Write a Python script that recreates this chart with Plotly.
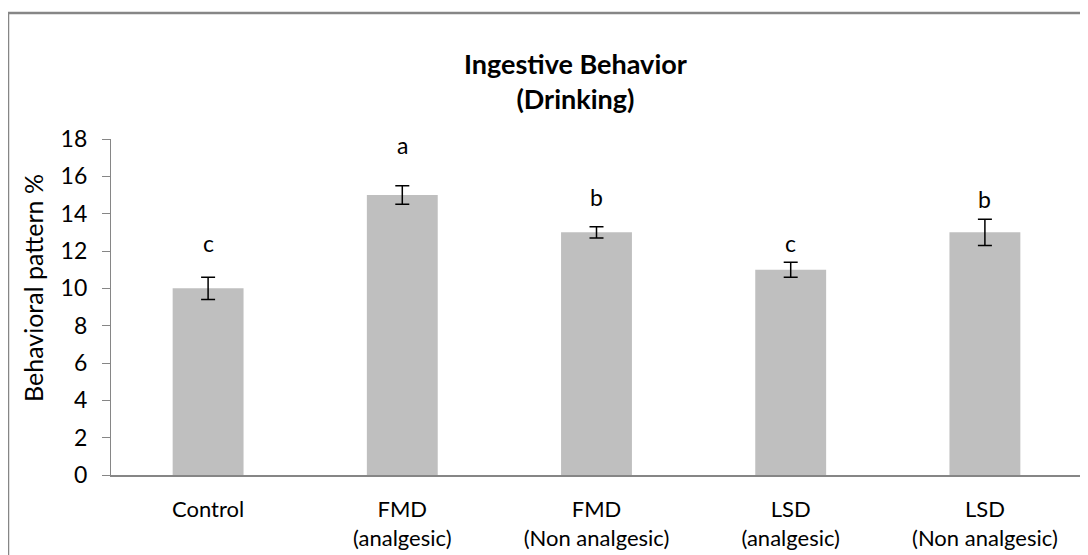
import plotly.graph_objects as go

categories = ["Control", "FMD<br>(analgesic)", "FMD<br>(Non analgesic)", "LSD<br>(analgesic)", "LSD<br>(Non analgesic)"]
values = [10, 15, 13, 11, 13]
errors = [0.6, 0.5, 0.3, 0.4, 0.7]
letters = ["c", "a", "b", "c", "b"]
letter_y = [12.45, 17.7, 14.9, 12.45, 14.8]
y_ticks = [0, 2, 4, 6, 8, 10, 12, 14, 16, 18]

FONT = "Lato"
AXIS_COLOR = "#868686"
TEXT_COLOR = "#000000"

# page body has an 8px margin; work in screen coordinates and subtract it
OFF = 8
W, H = 1080, 547
ml, mt = 111 - OFF, 139 - OFF
mr = W - (1082 - OFF)
mb = H - (475 - OFF)
pw, ph = W - ml - mr, H - mt - mb

def px(x):
    return (x - OFF - ml) / pw

def py(y):
    return (H - mb - (y - OFF)) / ph

fig = go.Figure()
fig.add_trace(go.Bar(
    x=categories, y=values,
    marker=dict(color="#BFBFBF", line=dict(width=0)),
    width=0.365,
    error_y=dict(type="data", array=errors, visible=True, color="#000000", thickness=1.5, width=7),
    showlegend=False,
))

for c, l, yy in zip(categories, letters, letter_y):
    fig.add_annotation(x=c, y=yy, text=l, showarrow=False, xref="x", yref="y",
                       font=dict(family=FONT, size=23, color=TEXT_COLOR), yanchor="middle")

# outer border (left and top visible)
fig.add_shape(type="path", xref="paper", yref="paper",
              path=f"M {px(8)} {py(600)} L {px(8)} {py(13)} L {px(1100)} {py(13)}",
              line=dict(color=AXIS_COLOR, width=2.5))

fig.add_annotation(xref="paper", yref="paper", x=px(575), y=py(81),
                   text="<b>Ingestive Behavior<br>(Drinking)</b>",
                   showarrow=False, font=dict(family=FONT, size=27, color=TEXT_COLOR), yanchor="middle")

fig.add_annotation(xref="paper", yref="paper", x=px(33), y=py(288),
                   text="Behavioral pattern %", textangle=-90,
                   showarrow=False, font=dict(family=FONT, size=25, color=TEXT_COLOR),
                   xanchor="center", yanchor="middle")

fig.update_layout(
    width=W, height=H,
    margin=dict(l=ml, r=mr, t=mt, b=mb, pad=0, autoexpand=False),
    paper_bgcolor="white", plot_bgcolor="white",
    font=dict(family=FONT, size=23, color=TEXT_COLOR),
    bargap=0.635,
)
fig.update_yaxes(range=[0, 18], tickvals=y_ticks, showgrid=False, zeroline=False,
                 showline=True, linecolor=AXIS_COLOR, linewidth=1.2, automargin=False,
                 ticks="outside", ticklen=8, tickcolor=AXIS_COLOR, tickwidth=1.2,
                 ticklabelstandoff=10, tickfont=dict(family=FONT, size=23, color=TEXT_COLOR))
fig.update_xaxes(showgrid=False, showline=True, linecolor=AXIS_COLOR, linewidth=1.5, automargin=False,
                 ticks="", ticklabelstandoff=14, tickfont=dict(family=FONT, size=22, color=TEXT_COLOR))

fig.write_html("out.html")
